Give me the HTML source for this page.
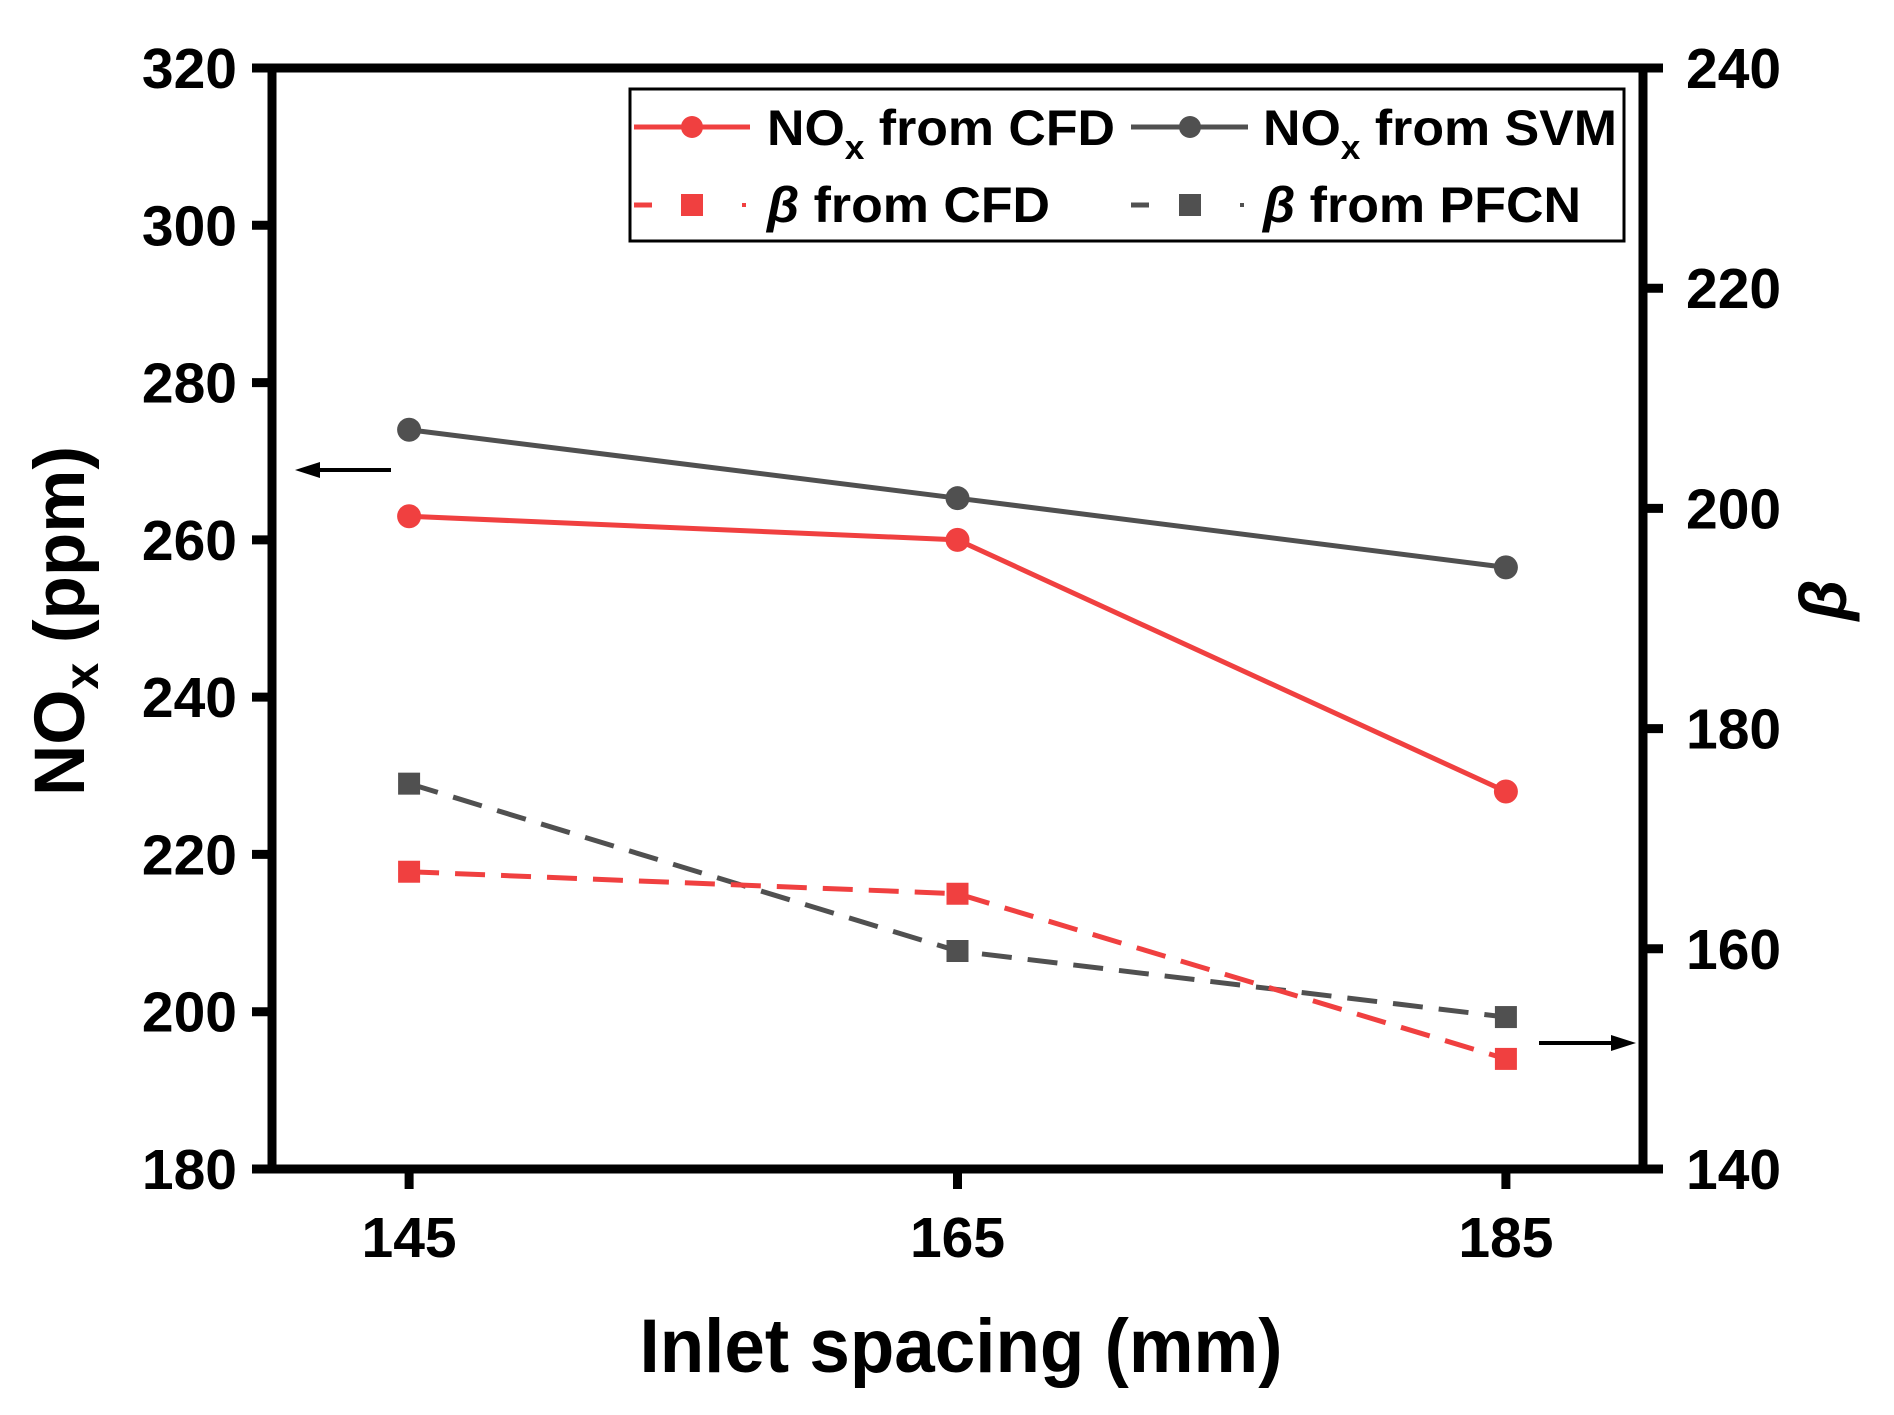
<!DOCTYPE html>
<html><head><meta charset="utf-8"><style>
html,body{margin:0;padding:0;background:#fff;}
svg{display:block;font-family:"Liberation Sans",Arial,sans-serif;font-weight:bold;}
</style></head><body>
<svg id="chart" width="1894" height="1415" viewBox="0 0 1894 1415" xmlns="http://www.w3.org/2000/svg">
<g id="marks"></g>
<g id="axes"></g>
<g>
  <rect x="630" y="89" width="994" height="152" fill="#fff" stroke="#000" stroke-width="3"/>
  <g>
    <line x1="634" y1="127" x2="750" y2="127" stroke="#f04040" stroke-width="5"/>
    <circle cx="692" cy="127" r="11" fill="#f04040"/>
    <text x="767" y="145" font-size="50" textLength="348" lengthAdjust="spacingAndGlyphs">NO<tspan font-size="34" dy="14">x</tspan><tspan dy="-14"> from CFD</tspan></text>
  </g>
  <g>
    <line x1="1131" y1="127" x2="1248" y2="127" stroke="#505050" stroke-width="5"/>
    <circle cx="1190" cy="127" r="11" fill="#505050"/>
    <text x="1263" y="145" font-size="50" textLength="354" lengthAdjust="spacingAndGlyphs">NO<tspan font-size="34" dy="14">x</tspan><tspan dy="-14"> from SVM</tspan></text>
  </g>
  <g>
    <line x1="634" y1="205" x2="652" y2="205" stroke="#f04040" stroke-width="5"/>
    <rect x="681" y="194" width="22" height="22" fill="#f04040"/>
    <rect x="742" y="203" width="4" height="4" fill="#f04040"/>
    <text x="767" y="222" font-size="50" textLength="283" lengthAdjust="spacingAndGlyphs"><tspan font-style="italic">β</tspan> from CFD</text>
  </g>
  <g>
    <line x1="1131" y1="205" x2="1149" y2="205" stroke="#505050" stroke-width="5"/>
    <rect x="1179" y="194" width="22" height="22" fill="#505050"/>
    <rect x="1240" y="203" width="4" height="4" fill="#505050"/>
    <text x="1263" y="222" font-size="50" textLength="318" lengthAdjust="spacingAndGlyphs"><tspan font-style="italic">β</tspan> from PFCN</text>
  </g>
</g>
<g>
  <line x1="391" y1="470" x2="310" y2="470" stroke="#000" stroke-width="4"/>
  <polygon points="295,470 320,462 320,478" fill="#000"/>
</g>
<g>
  <line x1="1539" y1="1043" x2="1620" y2="1043" stroke="#000" stroke-width="4"/>
  <polygon points="1636,1043 1611,1035 1611,1051" fill="#000"/>
</g>
<text x="961" y="1372" font-size="76" text-anchor="middle" textLength="643" lengthAdjust="spacingAndGlyphs">Inlet spacing (mm)</text>
<text transform="translate(84,621) rotate(-90)" font-size="71" text-anchor="middle">NO<tspan font-size="48" dy="14">x</tspan><tspan dy="-14"> (ppm)</tspan></text>
<text transform="translate(1846,600) rotate(-90)" font-size="66" font-style="italic" text-anchor="middle">β</text>
<script>
const xCategories = [145, 165, 185];
const noxCFD = [263, 260, 228];
const noxSVM = [274, 265.3, 256.5];
const betaCFD = [167, 165, 150];
const betaPFCN = [175, 159.8, 153.8];
const leftTicks = [180, 200, 220, 240, 260, 280, 300, 320];
const rightTicks = [140, 160, 180, 200, 220, 240];

const L = 272, R = 1643, T = 68, B = 1169;
const xs = v => L + (v - 140) / 50 * (R - L);
const yl = v => B - (v - 180) / 140 * (B - T);
const yr = v => B - (v - 140) / 100 * (B - T);
const NS = 'http://www.w3.org/2000/svg';
const marks = document.getElementById('marks');
const axes = document.getElementById('axes');
function mk(tag, attrs, parent) {
  const e = document.createElementNS(NS, tag);
  for (const k in attrs) e.setAttribute(k, attrs[k]);
  parent.appendChild(e);
  return e;
}
function series(vals, yf, color, dashed, square, name) {
  const g = mk('g', {}, marks);
  
  
  const pts = vals.map((v, i) => xs(xCategories[i]) + ',' + yf(v)).join(' ');
  const pl = mk('polyline', {points: pts, fill: 'none', stroke: color, 'stroke-width': 5}, g);
  if (dashed) pl.setAttribute('stroke-dasharray', '30 16');
  
  
  vals.forEach((v, i) => {
    let m;
    if (square) m = mk('rect', {x: xs(xCategories[i]) - 11, y: yf(v) - 11, width: 22, height: 22, fill: color}, g);
    else m = mk('circle', {cx: xs(xCategories[i]), cy: yf(v), r: 12, fill: color}, g);
    
    
  });
}
series(noxSVM, yl, '#505050', false, false, 'nox-svm-series');
series(noxCFD, yl, '#f04040', false, false, 'nox-cfd-series');
series(betaPFCN, yr, '#505050', true, true, 'beta-pfcn-series');
series(betaCFD, yr, '#f04040', true, true, 'beta-cfd-series');

const frame = mk('rect', {x: L, y: T, width: R - L, height: B - T, fill: 'none', stroke: '#000', 'stroke-width': 9}, axes);


leftTicks.forEach(t => {
  mk('line', {x1: 252, x2: L, y1: yl(t), y2: yl(t), stroke: '#000', 'stroke-width': 9}, axes);
  const tx = mk('text', {x: 237, y: yl(t) + 20, 'font-size': 57, 'text-anchor': 'end'}, axes);
  tx.textContent = t;
  
  
});
rightTicks.forEach(t => {
  mk('line', {x1: R, x2: 1663, y1: yr(t), y2: yr(t), stroke: '#000', 'stroke-width': 9}, axes);
  const tx = mk('text', {x: 1686, y: yr(t) + 20, 'font-size': 57, 'text-anchor': 'start'}, axes);
  tx.textContent = t;
  
  
});
xCategories.forEach(c => {
  mk('line', {x1: xs(c), x2: xs(c), y1: B, y2: B + 20, stroke: '#000', 'stroke-width': 9}, axes);
  const tx = mk('text', {x: xs(c), y: 1257, 'font-size': 57, 'text-anchor': 'middle'}, axes);
  tx.textContent = c;
  
  
});
</script>
</svg>
</body></html>
